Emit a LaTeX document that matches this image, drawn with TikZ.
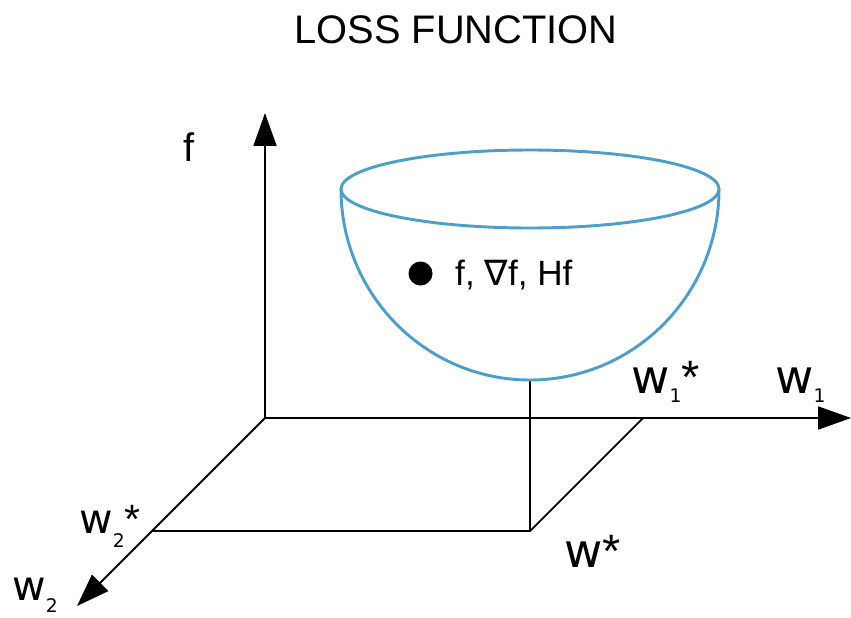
\documentclass[tikz,border=0pt]{standalone}
\usepackage{fontspec}
\setmainfont{Liberation Sans}
\newfontfamily\dejavu{DejaVu Sans}
\usetikzlibrary{arrows.meta}
\definecolor{bowlblue}{RGB}{78,158,202}
% w with a lowered index and a trailing mark
\newcommand{\wsub}[3]{w\kern0pt\raisebox{-#3}{\fontsize{16}{16}\selectfont #1}{\normalfont #2}}

\begin{document}
\begin{tikzpicture}[
    x=0.03cm, y=-0.03cm,
    axis/.style={line width=1.7pt, -{Triangle[length=28pt, width=19.5pt]}},
    guide/.style={line width=1.5pt},
    bowl/.style={draw=bowlblue, line width=2.5pt},
    title/.style={font=\fontsize{34}{40}\selectfont, anchor=base, inner sep=0pt},
    lbl/.style={anchor=base west, inner sep=0pt},
    wlabel/.style={lbl, font=\dejavu\fontsize{40}{46}\selectfont},
    dot/.style={circle, fill=black, inner sep=0pt, minimum size=0.72cm}
]
\useasboundingbox (0,0) rectangle (851,617);

% Points
\coordinate (O) at (265,418);
\coordinate (ftip) at (265,113);
\coordinate (w1tip) at (851,418);
\coordinate (w2tip) at (77,606);
\coordinate (w1s) at (643,418);
\coordinate (w2s) at (152,531);
\coordinate (ws) at (530,531);
\coordinate (bot) at (530,380);
\coordinate (rim) at (530,189);
\coordinate (rimleft) at (341,189);

% Title
\node[title] (head) at (456,43) {LOSS FUNCTION};

% Guides to the minimum
\draw[guide] (w1s) -- (ws) -- (w2s);
\draw[guide] (ws) -- (bot);

% Axes
\draw[axis] (O) -- (ftip);
\draw[axis] (O) -- (w1tip);
\draw[axis] (O) -- (w2tip);

% Bowl
\draw[bowl] (rim) ellipse [x radius=5.67cm, y radius=1.17cm];
\draw[bowl] (rimleft) arc[start angle=180, end angle=360, x radius=5.67cm, y radius=5.73cm];

% Point and its quantities
\node[dot] (pt) at (420.5,273.5) {};
\node[lbl, font=\fontsize{30}{36}\selectfont] (info) at (455,285) {f, {\dejavu ∇}f, Hf};

% Axis labels
\node[lbl, font=\fontsize{34}{40}\selectfont] (flab) at (183,161) {f};
\node[wlabel] (w1slab) at (631,393) {\wsub{1}{*}{8.5pt}};
\node[wlabel] (w1lab) at (775,393) {\wsub{1}{}{8.5pt}};
\node[wlabel, font=\dejavu\fontsize{35}{40}\selectfont] (w2slab) at (79,533) {\wsub{2}{*}{12pt}};
\node[wlabel, font=\dejavu\fontsize{35}{40}\selectfont] (w2lab) at (12,600) {\wsub{2}{}{11pt}};
\node[wlabel] (wslab) at (564,567) {w{\normalfont *}};

\end{tikzpicture}
\end{document}
